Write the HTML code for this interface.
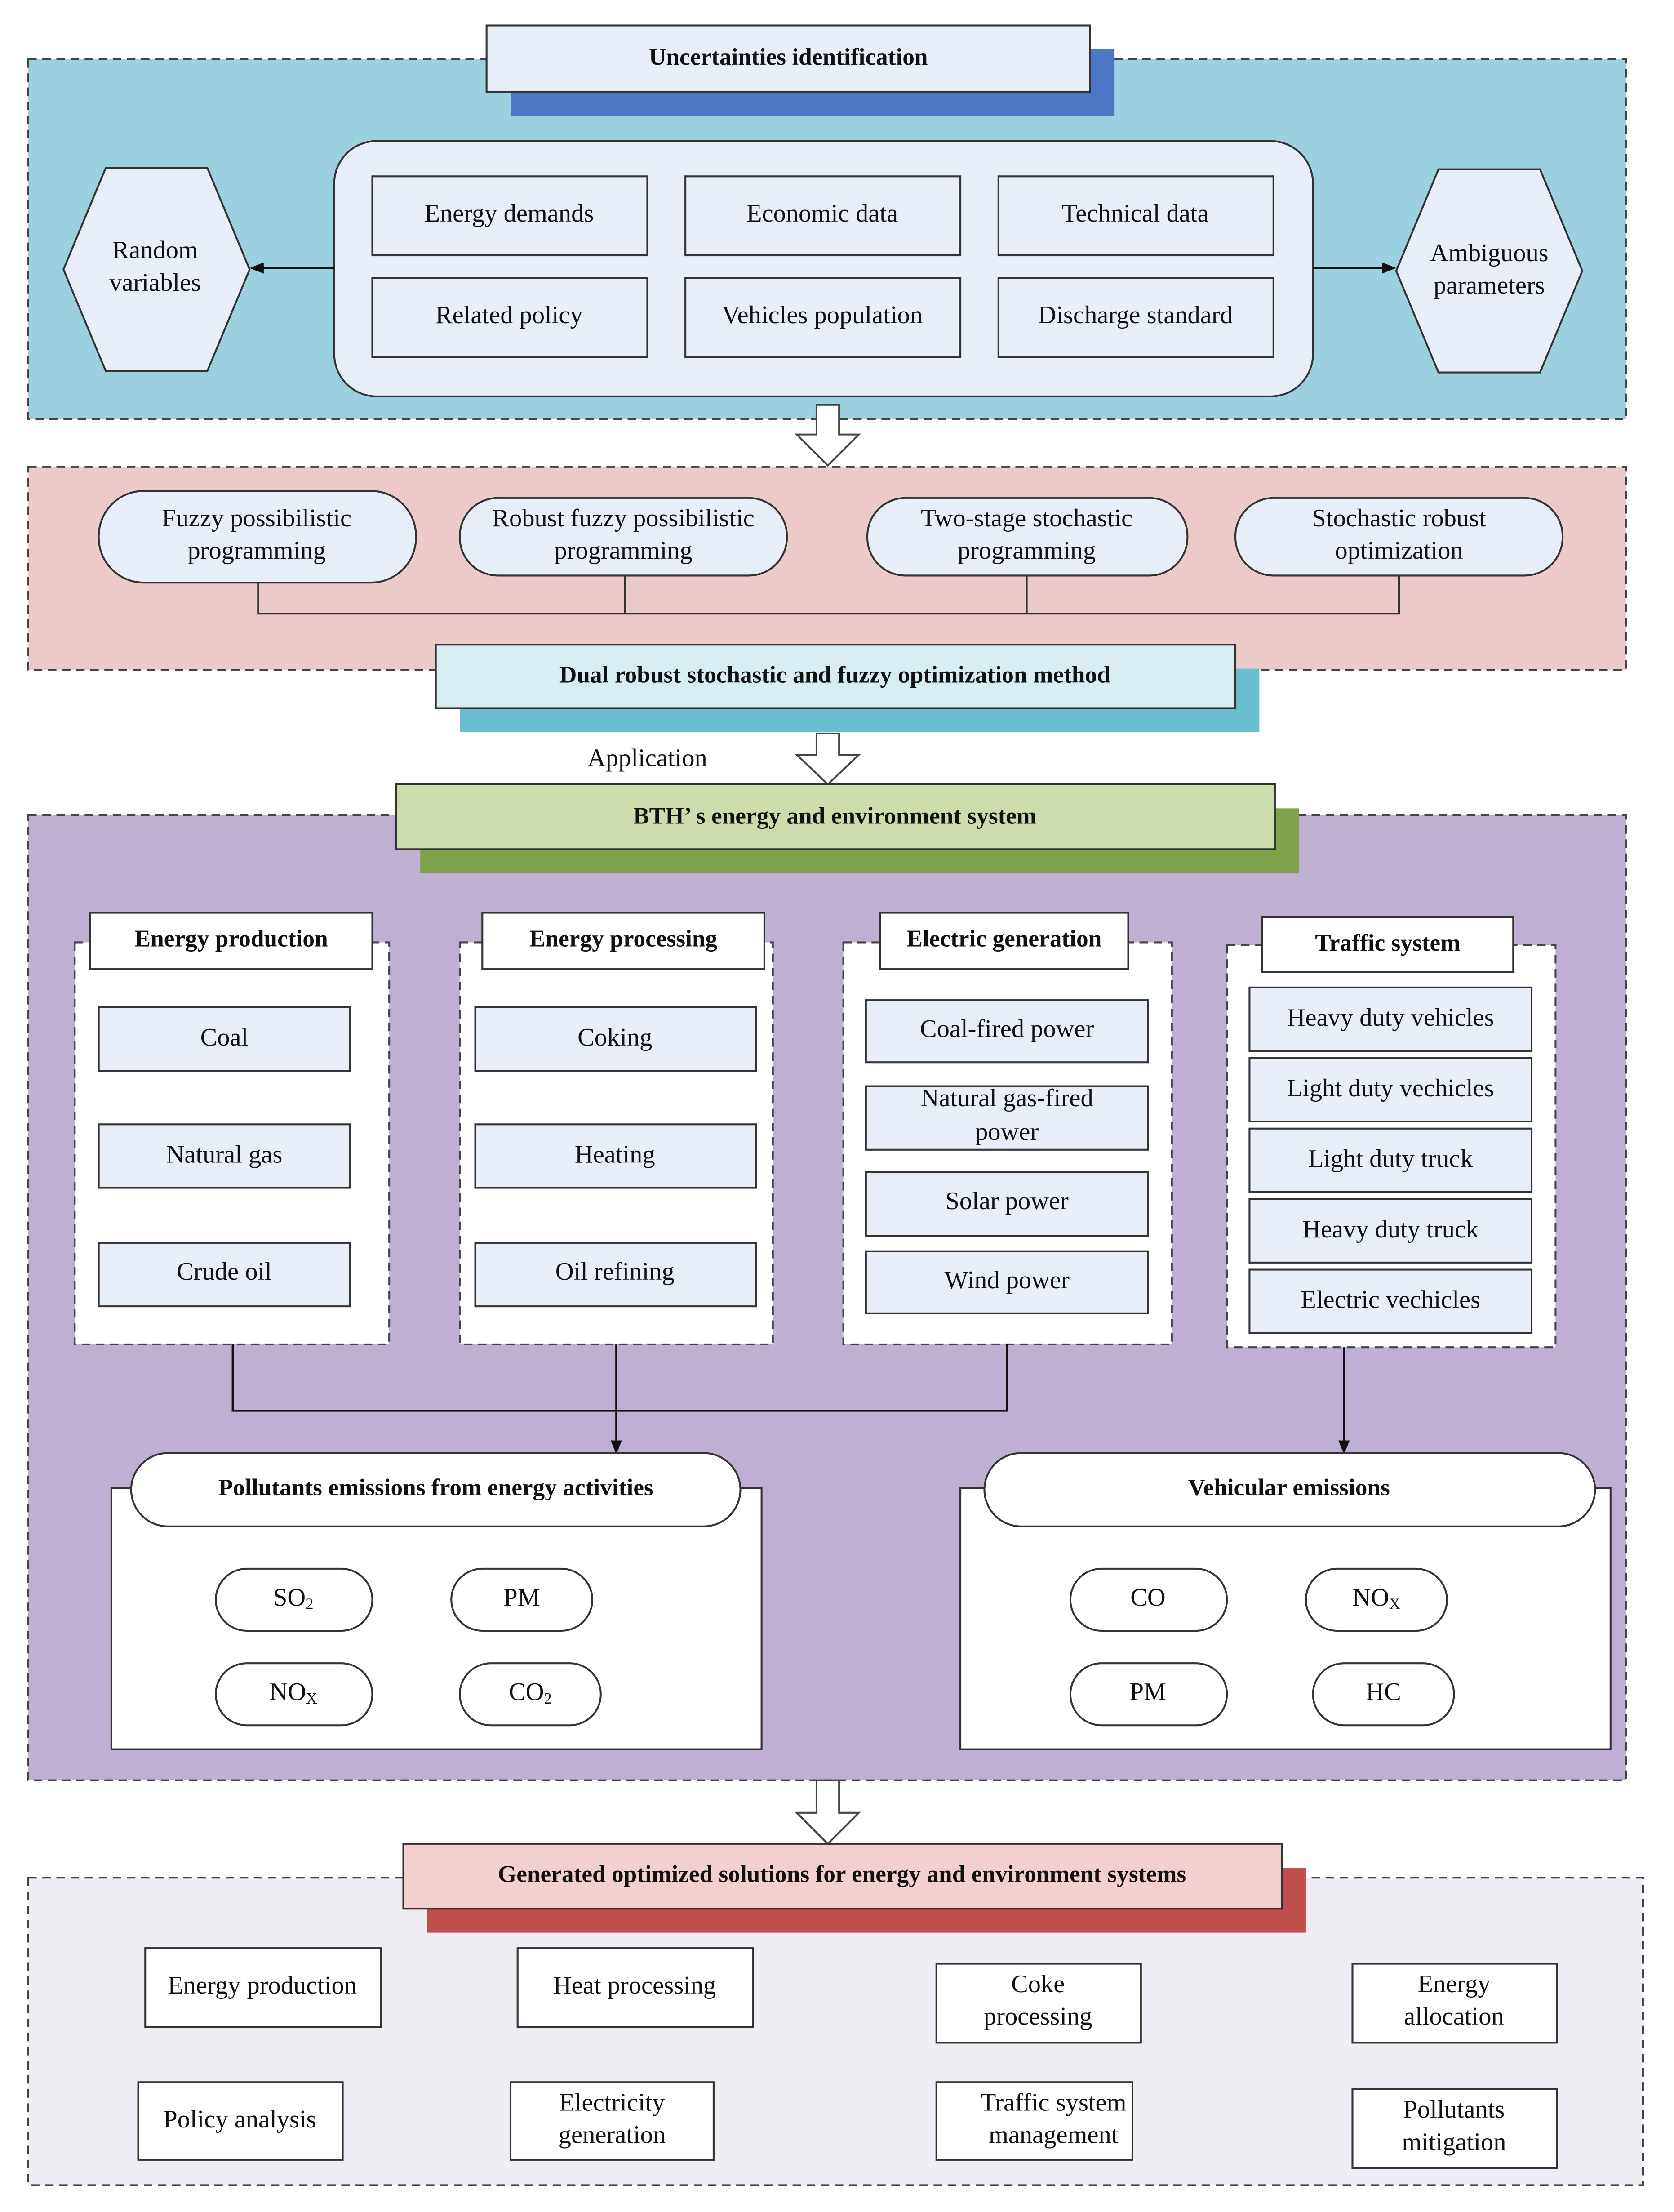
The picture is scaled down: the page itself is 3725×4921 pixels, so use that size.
<!DOCTYPE html>
<html><head><meta charset="utf-8"><style>
html,body{margin:0;padding:0;background:#fff}
svg{display:block}
text{font-family:"Liberation Serif",serif;fill:#111}
.t{font-size:18px;text-anchor:middle;dominant-baseline:middle}
.b{font-size:17px;font-weight:bold;text-anchor:middle;dominant-baseline:middle}
</style></head><body>
<svg width="3725" height="4921" viewBox="0 0 1187 1568" preserveAspectRatio="none" xmlns="http://www.w3.org/2000/svg">
<defs>
<marker id="ar" markerWidth="10" markerHeight="10" refX="9" refY="5" orient="auto" markerUnits="userSpaceOnUse"><path d="M0,1 L10,5 L0,9 Z" fill="#111"/></marker>
</defs>
<g stroke="#444" stroke-width="1.3">
<rect x="20" y="42" width="1133" height="255" fill="#9bd0df" stroke-dasharray="6,4"/>
<rect x="20" y="331" width="1133" height="144" fill="#eccaca" stroke-dasharray="6,4"/>
<rect x="20" y="578" width="1133" height="684" fill="#bfb0d3" stroke-dasharray="6,4"/>
<rect x="20" y="1331" width="1145" height="218" fill="#efedf3" stroke-dasharray="6,4"/>
</g>
<rect x="362" y="35" width="428" height="47" fill="#4a78c4"/>
<rect x="345" y="18" width="428" height="47" fill="#e8eef8" stroke="#333" stroke-width="1.3"/>
<text class="b" x="559" y="42">Uncertainties  identification</text>
<g stroke="#333" stroke-width="1.3" fill="#e8eef8">
<rect x="237" y="100" width="694" height="181" rx="30"/>
<rect x="264" y="125" width="195" height="56"/><rect x="486" y="125" width="195" height="56"/><rect x="708" y="125" width="195" height="56"/>
<rect x="264" y="197" width="195" height="56"/><rect x="486" y="197" width="195" height="56"/><rect x="708" y="197" width="195" height="56"/>
<polygon points="45,191 75,119 147,119 177,191 147,263 75,263"/>
<polygon points="990,192 1020,120 1092,120 1122,192 1092,264 1020,264"/>
</g>
<text class="t" x="361" y="153">Energy demands</text>
<text class="t" x="583" y="153">Economic data</text>
<text class="t" x="805" y="153">Technical data</text>
<text class="t" x="361" y="225">Related policy</text>
<text class="t" x="583" y="225">Vehicles population</text>
<text class="t" x="805" y="225">Discharge standard</text>
<text class="t" x="110" y="179">Random</text><text class="t" x="110" y="202">variables</text>
<text class="t" x="1056" y="181">Ambiguous</text><text class="t" x="1056" y="204">parameters</text>
<g stroke="#111" stroke-width="1.5">
<line x1="237" y1="190" x2="178" y2="190" marker-end="url(#ar)"/>
<line x1="931" y1="190" x2="989" y2="190" marker-end="url(#ar)"/>
</g>
<g fill="#fff" stroke="#444" stroke-width="1.3">
<polygon points="579,287 595,287 595,308 609,308 587,330 565,308 579,308"/>
<polygon points="579,520 595,520 595,535 609,535 587,556 565,535 579,535"/>
<polygon points="579,1262 595,1262 595,1285 609,1285 587,1307 565,1285 579,1285"/>
</g>
<g stroke="#333" stroke-width="1.3" fill="#e8eef8">
<rect x="70" y="348" width="225" height="65" rx="32"/>
<rect x="326" y="353" width="232" height="55" rx="27"/>
<rect x="615" y="353" width="227" height="55" rx="27"/>
<rect x="876" y="353" width="232" height="55" rx="27"/>
</g>
<text class="t" x="182" y="369">Fuzzy possibilistic</text><text class="t" x="182" y="392">programming</text>
<text class="t" x="442" y="369">Robust fuzzy possibilistic</text><text class="t" x="442" y="392">programming</text>
<text class="t" x="728" y="369">Two-stage stochastic</text><text class="t" x="728" y="392">programming</text>
<text class="t" x="992" y="369">Stochastic robust</text><text class="t" x="992" y="392">optimization</text>
<path d="M183,413 V435 H992 V408 M443,408 V435 M728,408 V435" fill="none" stroke="#333" stroke-width="1.3"/>
<rect x="326" y="474" width="567" height="45" fill="#6bbdd0"/>
<rect x="309" y="457" width="567" height="45" fill="#d7edf2" stroke="#333" stroke-width="1.3"/>
<text class="b" x="592" y="480">Dual robust stochastic and fuzzy optimization method</text>
<text class="t" x="459" y="539">Application</text>
<rect x="298" y="573" width="623" height="46" fill="#7fa14a"/>
<rect x="281" y="556" width="623" height="46" fill="#cddcab" stroke="#333" stroke-width="1.3"/>
<text class="b" x="592" y="580">BTH’ s energy and environment system</text>
<g fill="#fff" stroke="#444" stroke-width="1.3" stroke-dasharray="6,4">
<rect x="53" y="668" width="223" height="285"/>
<rect x="326" y="668" width="222" height="285"/>
<rect x="598" y="668" width="233" height="285"/>
<rect x="870" y="670" width="233" height="285"/>
</g>
<g fill="#fff" stroke="#333" stroke-width="1.3">
<rect x="64" y="647" width="200" height="40"/>
<rect x="342" y="647" width="200" height="40"/>
<rect x="624" y="647" width="176" height="40"/>
<rect x="895" y="650" width="178" height="39"/>
</g>
<text class="b" x="164" y="667">Energy production</text>
<text class="b" x="442" y="667">Energy processing</text>
<text class="b" x="712" y="667">Electric generation</text>
<text class="b" x="984" y="670">Traffic system</text>
<g fill="#e8eef8" stroke="#333" stroke-width="1.3">
<rect x="70" y="714" width="178" height="45"/><rect x="70" y="797" width="178" height="45"/><rect x="70" y="881" width="178" height="45"/>
<rect x="337" y="714" width="199" height="45"/><rect x="337" y="797" width="199" height="45"/><rect x="337" y="881" width="199" height="45"/>
<rect x="614" y="709" width="200" height="44"/><rect x="614" y="770" width="200" height="45"/><rect x="614" y="831" width="200" height="45"/><rect x="614" y="887" width="200" height="44"/>
<rect x="886" y="700" width="200" height="45"/><rect x="886" y="750" width="200" height="45"/><rect x="886" y="800" width="200" height="45"/><rect x="886" y="850" width="200" height="45"/><rect x="886" y="900" width="200" height="45"/>
</g>
<text class="t" x="159" y="737">Coal</text><text class="t" x="159" y="820">Natural gas</text><text class="t" x="159" y="903">Crude oil</text>
<text class="t" x="436" y="737">Coking</text><text class="t" x="436" y="820">Heating</text><text class="t" x="436" y="903">Oil refining</text>
<text class="t" x="714" y="731">Coal-fired power</text>
<text class="t" x="714" y="780">Natural gas-fired</text><text class="t" x="714" y="804">power</text>
<text class="t" x="714" y="853">Solar power</text><text class="t" x="714" y="909">Wind power</text>
<text class="t" x="986" y="723">Heavy duty vehicles</text><text class="t" x="986" y="773">Light duty vechicles</text><text class="t" x="986" y="823">Light duty truck</text><text class="t" x="986" y="873">Heavy duty truck</text><text class="t" x="986" y="923">Electric vechicles</text>
<path d="M165,953 V1000 H714 V953" fill="none" stroke="#111" stroke-width="1.4"/>
<line x1="437" y1="953" x2="437" y2="1030" stroke="#111" stroke-width="1.4" marker-end="url(#ar)"/>
<line x1="953" y1="955" x2="953" y2="1030" stroke="#111" stroke-width="1.4" marker-end="url(#ar)"/>
<g fill="#fff" stroke="#333" stroke-width="1.3">
<rect x="79" y="1055" width="461" height="185"/>
<rect x="93" y="1030" width="432" height="52" rx="26"/>
<rect x="681" y="1055" width="461" height="185"/>
<rect x="698" y="1030" width="433" height="52" rx="26"/>
<rect x="153" y="1112" width="111" height="44" rx="22"/><rect x="320" y="1112" width="100" height="44" rx="22"/>
<rect x="153" y="1179" width="111" height="44" rx="22"/><rect x="326" y="1179" width="100" height="44" rx="22"/>
<rect x="759" y="1112" width="111" height="44" rx="22"/><rect x="926" y="1112" width="100" height="44" rx="22"/>
<rect x="759" y="1179" width="111" height="44" rx="22"/><rect x="931" y="1179" width="100" height="44" rx="22"/>
</g>
<text class="b" x="309" y="1056">Pollutants emissions from energy activities</text>
<text class="b" x="914" y="1056">Vehicular emissions</text>
<text class="t" x="208" y="1134">SO<tspan font-size="11" dy="4">2</tspan></text>
<text class="t" x="370" y="1134">PM</text>
<text class="t" x="208" y="1201">NO<tspan font-size="11" dy="4">X</tspan></text>
<text class="t" x="376" y="1201">CO<tspan font-size="11" dy="4">2</tspan></text>
<text class="t" x="814" y="1134">CO</text>
<text class="t" x="976" y="1134">NO<tspan font-size="11" dy="4">X</tspan></text>
<text class="t" x="814" y="1201">PM</text>
<text class="t" x="981" y="1201">HC</text>
<rect x="303" y="1324" width="623" height="46" fill="#c0504d"/>
<rect x="286" y="1307" width="623" height="46" fill="#f2d0d0" stroke="#333" stroke-width="1.3"/>
<text class="b" x="597" y="1330">Generated optimized solutions for energy and environment systems</text>
<g fill="#fff" stroke="#333" stroke-width="1.3">
<rect x="103" y="1381" width="167" height="56"/><rect x="367" y="1381" width="167" height="56"/>
<rect x="664" y="1392" width="145" height="56"/><rect x="959" y="1392" width="145" height="56"/>
<rect x="98" y="1476" width="145" height="55"/><rect x="362" y="1476" width="144" height="55"/>
<rect x="664" y="1476" width="139" height="55"/><rect x="959" y="1481" width="145" height="56"/>
</g>
<text class="t" x="186" y="1409">Energy production</text>
<text class="t" x="450" y="1409">Heat processing</text>
<text class="t" x="736" y="1408">Coke</text><text class="t" x="736" y="1431">processing</text>
<text class="t" x="1031" y="1408">Energy</text><text class="t" x="1031" y="1431">allocation</text>
<text class="t" x="170" y="1504">Policy analysis</text>
<text class="t" x="434" y="1492">Electricity</text><text class="t" x="434" y="1515">generation</text>
<text class="t" x="747" y="1492">Traffic system</text><text class="t" x="747" y="1515">management</text>
<text class="t" x="1031" y="1497">Pollutants</text><text class="t" x="1031" y="1520">mitigation</text>
</svg>
</body></html>
